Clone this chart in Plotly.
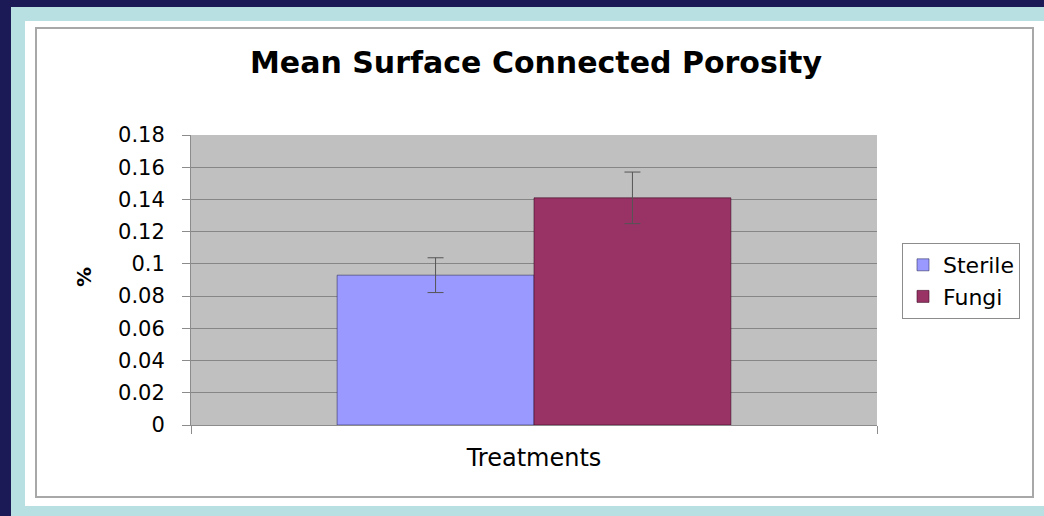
import plotly.graph_objects as go

# ---- data ----
categories = ["Treatments"]
series_names = ["Sterile", "Fungi"]
sterile_values = [0.093]
fungi_values = [0.141]
sterile_err = [0.0108]
fungi_err = [0.016]
y_tick_values = [0, 0.02, 0.04, 0.06, 0.08, 0.1, 0.12, 0.14, 0.16, 0.18]
y_tick_labels = ["0", "0.02", "0.04", "0.06", "0.08", "0.1", "0.12", "0.14", "0.16", "0.18"]
title_text = "Mean Surface Connected Porosity"
y_title = "%"

# ---- geometry (pixels) ----
W, H = 1044, 516
PL, PR, PT, PB = 191, 877, 135, 425  # plot area box


def px_x(px):
    return (px - PL) / (PR - PL)


def px_y(py):
    return (PB - py) / (PB - PT)


FONT = "DejaVu Sans, Liberation Sans, Arial, sans-serif"

fig = go.Figure()
fig.add_trace(go.Bar(
    name=series_names[0], x=categories, y=sterile_values,
    marker=dict(color="#9999FF", line=dict(color="rgba(40,40,90,0.55)", width=1)),
    error_y=dict(type="data", array=sterile_err, visible=True, color="#555555", thickness=1, width=8),
    legendgroup="a",
))
fig.add_trace(go.Bar(
    name=series_names[1], x=categories, y=fungi_values,
    marker=dict(color="#993366", line=dict(color="rgba(60,10,35,0.6)", width=1)),
    error_y=dict(type="data", array=fungi_err, visible=True, color="#555555", thickness=1, width=8),
    legendgroup="b",
))

shapes = [
    # navy strips
    dict(type="rect", xref="paper", yref="paper", x0=px_x(0), x1=px_x(11), y0=px_y(0), y1=px_y(H),
         fillcolor="#1c1a56", line=dict(width=0), layer="below"),
    dict(type="rect", xref="paper", yref="paper", x0=px_x(0), x1=px_x(W), y0=px_y(0), y1=px_y(7),
         fillcolor="#1c1a56", line=dict(width=0), layer="below"),
    # cyan strips
    dict(type="rect", xref="paper", yref="paper", x0=px_x(11), x1=px_x(25), y0=px_y(7), y1=px_y(H),
         fillcolor="#b8e0e3", line=dict(width=0), layer="below"),
    dict(type="rect", xref="paper", yref="paper", x0=px_x(11), x1=px_x(W), y0=px_y(7), y1=px_y(21),
         fillcolor="#b8e0e3", line=dict(width=0), layer="below"),
    dict(type="rect", xref="paper", yref="paper", x0=px_x(11), x1=px_x(W), y0=px_y(506), y1=px_y(H),
         fillcolor="#b8e0e3", line=dict(width=0), layer="below"),
    # chart frame
    dict(type="rect", xref="paper", yref="paper", x0=px_x(36), x1=px_x(1033), y0=px_y(497), y1=px_y(28),
         fillcolor="rgba(0,0,0,0)", line=dict(color="#a8a8a8", width=2), layer="below"),
]

fig.update_layout(
    width=W, height=H,
    margin=dict(l=PL, r=W - PR, t=PT, b=H - PB, pad=0),
    paper_bgcolor="white",
    plot_bgcolor="#C0C0C0",
    barmode="group",
    bargap=0.426,
    bargroupgap=0,
    shapes=shapes,
    font=dict(family=FONT, color="black", size=20),
    title=dict(text="<b>" + title_text + "</b>", x=536 / W, y=1 - 62 / H, xref="container", yref="container",
               xanchor="center", yanchor="middle", font=dict(family=FONT, size=30, color="black")),
    showlegend=True,
    legend=dict(x=px_x(902), y=px_y(243), xanchor="left", yanchor="top",
                bgcolor="white", bordercolor="#8c8c8c", borderwidth=1,
                font=dict(family=FONT, size=22, color="black"),
                tracegroupgap=0, itemwidth=30),
    annotations=[
        dict(text="<b>" + y_title + "</b>", xref="paper", yref="paper", x=px_x(84), y=px_y(277),
             showarrow=False, textangle=-90, font=dict(family=FONT, size=20, color="black"),
             xanchor="center", yanchor="middle"),
    ],
)

fig.update_xaxes(
    type="category", showgrid=False, zeroline=False,
    showline=True, linecolor="#8c8c8c", linewidth=1,
    ticks="outside", ticklen=8, tickcolor="#8c8c8c", tickwidth=1, tickson="boundaries",
    showticklabels=True, tickfont=dict(family=FONT, size=24, color="black"),
    ticklabelstandoff=11,
)
fig.update_yaxes(
    range=[0, 0.18], tickvals=y_tick_values, ticktext=y_tick_labels,
    showgrid=True, gridcolor="#868686", gridwidth=1, zeroline=False,
    showline=True, linecolor="#8c8c8c", linewidth=1,
    ticks="outside", ticklen=8, tickcolor="#8c8c8c", tickwidth=1,
    tickfont=dict(family=FONT, size=21, color="black"),
    ticklabelstandoff=13,
)

fig.write_html(
    "out.html",
    config={"displayModeBar": False},
    post_script="document.documentElement.style.margin='0';document.body.style.margin='0';"
                "document.body.style.padding='0';document.body.style.overflow='hidden';",
)
